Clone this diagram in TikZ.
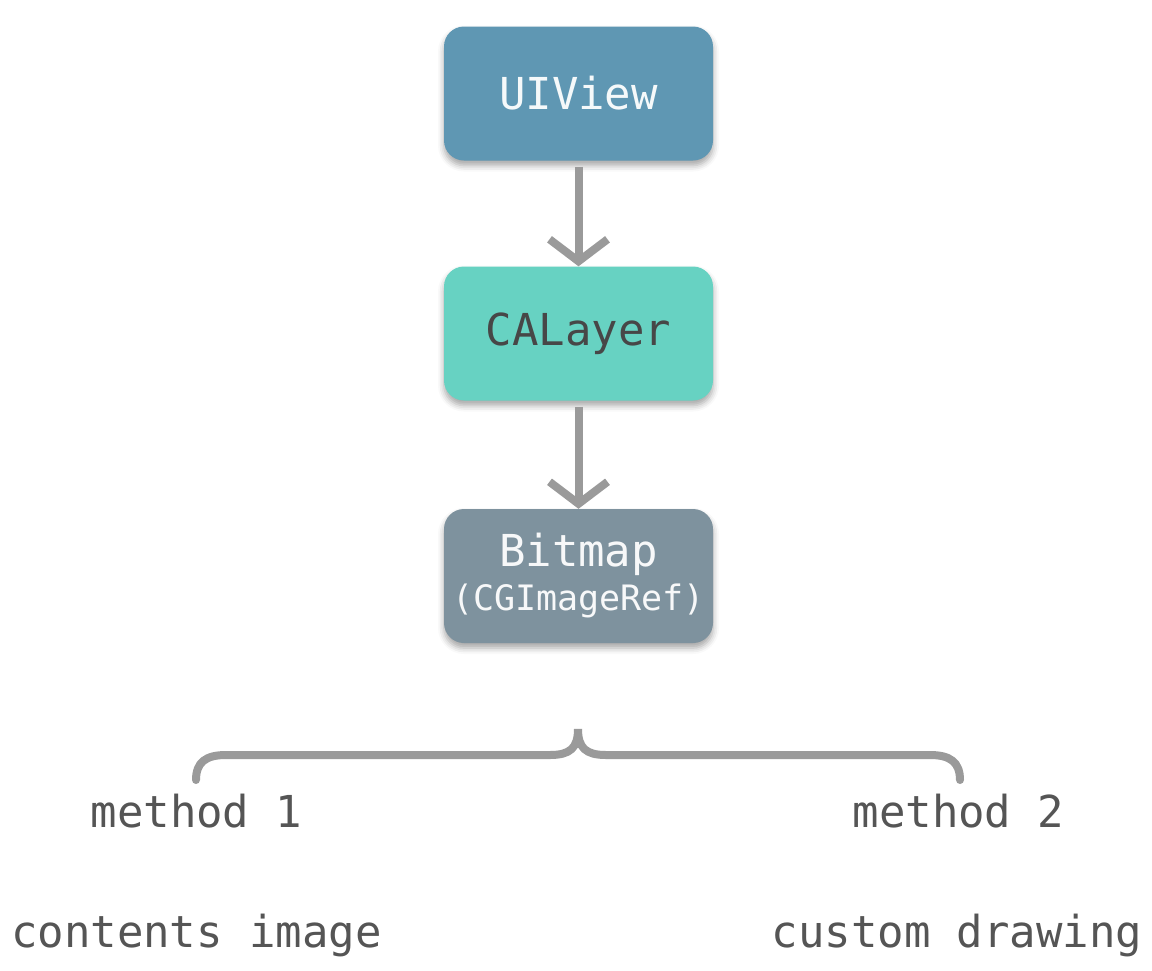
\documentclass[tikz,border=0pt]{standalone}
\usepackage{fontspec}
\newfontfamily\monof{DejaVu Sans Mono}
\usetikzlibrary{arrows.meta,shadows.blur}
\definecolor{uiblue}{HTML}{5F97B3}
\definecolor{cateal}{HTML}{67D2C2}
\definecolor{bmgray}{HTML}{7E929E}
\definecolor{arrgray}{HTML}{9A9A9A}
\definecolor{txtgray}{HTML}{555555}
\tikzset{
  box/.style={rounded corners=20pt, minimum width=269pt, minimum height=134pt, inner sep=0pt,
    blur shadow={shadow xshift=0pt, shadow yshift=-5pt, shadow blur radius=6pt, shadow opacity=35},
    font=\monof\fontsize{44}{46}\selectfont, align=center},
  conn/.style={draw=arrgray, line width=8pt, shorten <=6pt,
    -{Straight Barb[length=22pt, width=58pt, line width=8pt]}},
  lbl/.style={font=\monof\fontsize{44}{46}\selectfont, text=txtgray, anchor=base, inner sep=0pt},
}
\begin{document}
\begin{tikzpicture}[x=1pt,y=-1pt]
\useasboundingbox (0,0) rectangle (1152,970);
\node[box, fill=uiblue, text=white!94!uiblue] (uiview) at (578.5,93.5) {UIView};
\node[box, fill=cateal, text=black!72] (calayer) at (578.5,333.5) {CALayer};
\node[box, fill=bmgray, text=white!94!bmgray] (bitmap) at (578.5,576) {Bitmap\\[-2pt]{\fontsize{35}{40}\selectfont (CGImageRef)}};
\draw[conn] (uiview) -- (calayer);
\draw[conn] (calayer) -- (bitmap);
\draw[arrgray, line width=8pt, line cap=round]
  (196,780) .. controls (196,762) and (206,755) .. (226,755) -- (550,755)
  .. controls (570,755) and (578,748) .. (578,729)
  .. controls (578,748) and (586,755) .. (606,755) -- (930,755)
  .. controls (950,755) and (960,762) .. (960,780);
\node[lbl] (m1) at (196.5,827) {method 1};
\node[lbl] (m2) at (958.5,827) {method 2};
\node[lbl] (c1) at (196.5,947) {contents image};
\node[lbl] (c2) at (957,947) {custom drawing};
\end{tikzpicture}
\end{document}
